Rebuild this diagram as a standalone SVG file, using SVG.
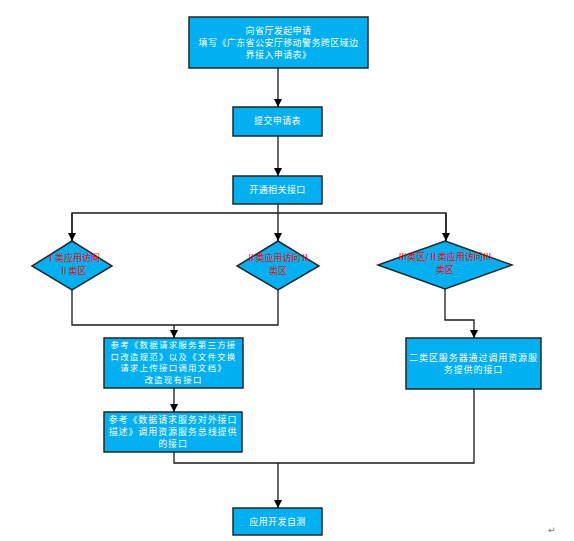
<svg xmlns="http://www.w3.org/2000/svg" width="574" height="541" viewBox="0 0 574 541">
<defs>
<marker id="arr" markerWidth="8" markerHeight="8" refX="8" refY="4" orient="auto" markerUnits="userSpaceOnUse">
<path d="M0,0 L8,4 L0,8 Z" fill="#000"/>
</marker>
<style>
.box{fill:#00B0F0;stroke:#262626;stroke-width:1.5}
.t{font-family:"Noto Sans CJK SC","Liberation Sans",sans-serif;font-size:9px;fill:#fff;text-anchor:middle;letter-spacing:0.4px}
.s{font-size:8.5px;letter-spacing:1.2px}
.r{font-family:"Noto Sans CJK SC","Liberation Sans",sans-serif;font-size:9px;fill:#FF0000;text-anchor:middle}
.c{fill:none;stroke:#1a1a1a;stroke-width:1.3}
</style>
</defs>
<rect width="574" height="541" fill="#fff"/>
<g id="n1"><rect class="box" x="189" y="17" width="179" height="51"/>
<text class="t" x="278.5" y="34">向省厅发起申请</text>
<text class="t" x="278.5" y="46">填写《广东省公安厅移动警务跨区域边</text>
<text class="t" x="278.5" y="58">界接入申请表》</text></g>
<g id="n2"><rect class="box" x="233" y="107" width="89" height="29"/>
<text class="t" x="277.5" y="124">提交申请表</text></g>
<g id="n3"><rect class="box" x="233" y="176" width="89" height="28"/>
<text class="t" x="277.5" y="193">开通相关接口</text></g>
<g id="d1"><polygon class="box" points="72,241 112,266 72,290 32,266"/>
<text class="r" x="73" y="261">Ⅰ类应用访问</text>
<text class="r" x="73" y="274">Ⅱ类区</text></g>
<g id="d2"><polygon class="box" points="278,241 319,266 278,290 237,266"/>
<text class="r" x="278" y="261">Ⅱ类应用访问Ⅱ</text>
<text class="r" x="278" y="274">类区</text></g>
<g id="d3"><polygon class="box" points="445,241 512,265 445,289 378,265"/>
<text class="r" x="445" y="260">Ⅲ类区/Ⅱ类应用访问Ⅲ</text>
<text class="r" x="445" y="273">类区</text></g>
<g id="n4"><rect class="box" x="104" y="338" width="139" height="50"/>
<text class="t s" x="173.5" y="348">参考《数据请求服务第三方接</text>
<text class="t s" x="173.5" y="359.5">口改造规范》以及《文件交换</text>
<text class="t s" x="173.5" y="371">请求上传接口调用文档》</text>
<text class="t s" x="173.5" y="382.5">改造现有接口</text></g>
<g id="n5"><rect class="box" x="406" y="338" width="135" height="51"/>
<text class="t" x="473.5" y="361" style="letter-spacing:0.9px">二类区服务器通过调用资源服</text>
<text class="t" x="473.5" y="373" style="letter-spacing:0.9px">务提供的接口</text></g>
<g id="n6"><rect class="box" x="104" y="412" width="138" height="40"/>
<text class="t" x="173" y="423" style="letter-spacing:0.9px">参考《数据请求服务对外接口</text>
<text class="t" x="173" y="435" style="letter-spacing:0.9px">描述》调用资源服务总线提供</text>
<text class="t" x="173" y="447" style="letter-spacing:0.9px">的接口</text></g>
<g id="n7"><rect class="box" x="233" y="508" width="89" height="27"/>
<text class="t" x="277.5" y="525">应用开发自测</text></g>
<g id="connectors">
<line class="c" x1="278" y1="68" x2="278" y2="107" marker-end="url(#arr)"/>
<line class="c" x1="278" y1="136" x2="278" y2="176" marker-end="url(#arr)"/>
<polyline class="c" points="278,204 278,213"/>
<polyline class="c" points="72,241 72,213 446,213 446,241"/>
<line class="c" x1="72" y1="213" x2="72" y2="241" marker-end="url(#arr)"/>
<line class="c" x1="278" y1="213" x2="278" y2="241" marker-end="url(#arr)"/>
<line class="c" x1="446" y1="213" x2="446" y2="241" marker-end="url(#arr)"/>
<polyline class="c" points="72,290 72,325 278,325 278,290"/>
<line class="c" x1="174" y1="325" x2="174" y2="338" marker-end="url(#arr)"/>
<polyline class="c" points="445,289 445,320 474,320 474,338" marker-end="url(#arr)"/>
<line class="c" x1="174" y1="388" x2="174" y2="412" marker-end="url(#arr)"/>
<polyline class="c" points="174,452 174,463 474,463 474,389"/>
<line class="c" x1="278" y1="463" x2="278" y2="508" marker-end="url(#arr)"/>
</g>
<text x="548" y="533" style="font-family:'DejaVu Sans',sans-serif;font-size:9px;fill:#777">↵</text>
</svg>
